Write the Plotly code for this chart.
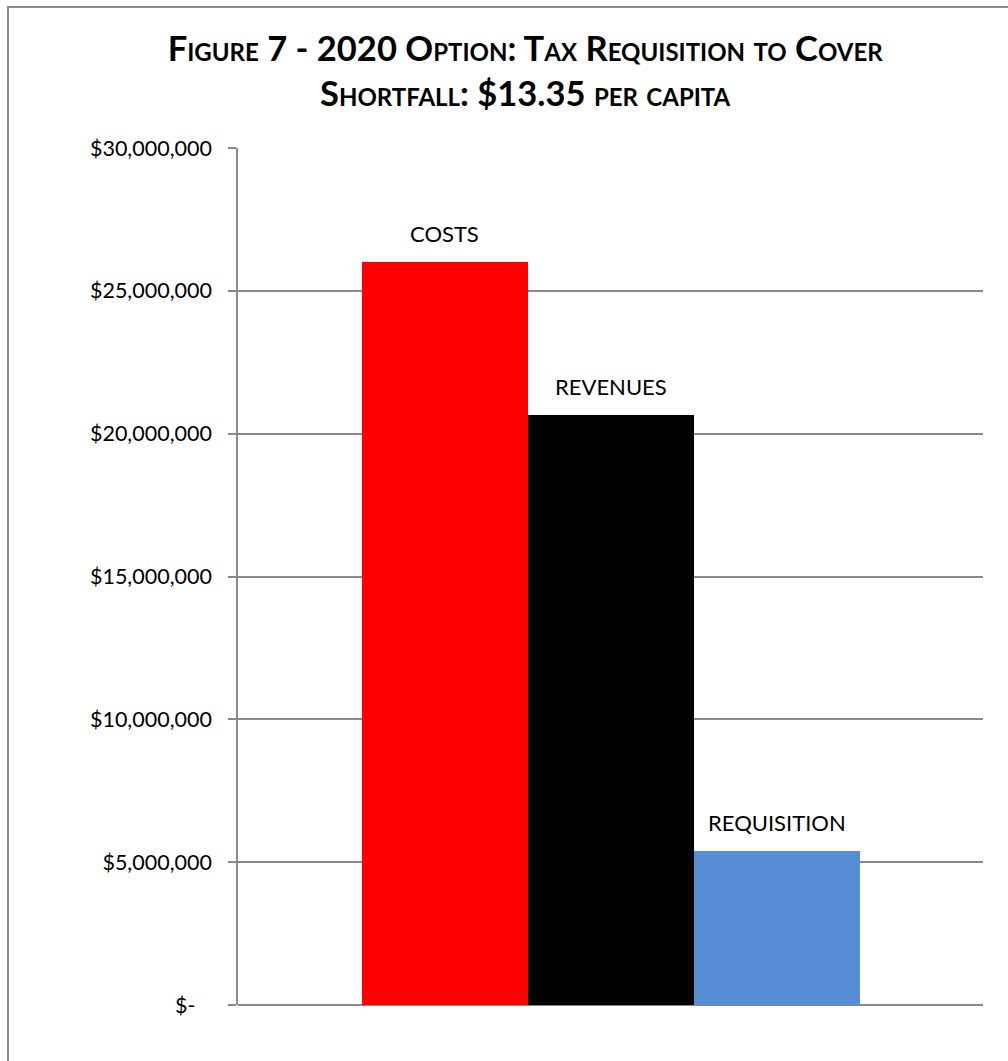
import plotly.graph_objects as go

# Budget components (dollars)
categories = ["COSTS", "REVENUES", "REQUISITION"]
amounts = [26010000, 20650000, 5390000]
bar_colors = ["#ff0000", "#000000", "#558ed5"]

tick_values = [0, 5000000, 10000000, 15000000, 20000000, 25000000, 30000000]
tick_labels = ["$-\u00a0\u00a0\u00a0", "$5,000,000", "$10,000,000", "$15,000,000",
               "$20,000,000", "$25,000,000", "$30,000,000"]

title_text = ("Figure 7 - 2020 Option: Tax Requisition to Cover<br>"
              "Shortfall: $13.35 per capita")

FONT = "Lato, 'Open Sans', sans-serif"
GRID = "#8a8a8a"

fig = go.Figure()
fig.add_trace(go.Bar(
    x=categories,
    y=amounts,
    marker=dict(color=bar_colors, line=dict(width=0)),
    hoverinfo="skip",
))

for cat, val in zip(categories, amounts):
    fig.add_annotation(
        x=cat, y=val, text=cat, showarrow=False,
        xref="x", yref="y", yanchor="bottom", yshift=13,
        font=dict(family=FONT, size=22, color="#000000"),
    )

# outer chart frame
fig.add_shape(
    type="rect", xref="paper", yref="paper",
    x0=(8 - 238) / 745, x1=1.15, y0=-0.2, y1=(1005 - 7) / 857,
    line=dict(color="#8a8a8a", width=2), fillcolor="rgba(0,0,0,0)",
    layer="below",
)

fig.update_layout(
    width=1008, height=1061,
    margin=dict(l=238, r=25, t=148, b=56),
    paper_bgcolor="white", plot_bgcolor="white",
    bargap=0,
    showlegend=False,
    title=dict(
        text=title_text,
        x=0.521, xanchor="center", xref="container",
        y=1 - 61 / 1061, yanchor="middle", yref="container",
        font=dict(family=FONT, size=34.5, color="#000000",
                  weight="bold", variant="small-caps"),
    ),
    xaxis=dict(
        range=[-1.244, 3.244],
        showticklabels=False, ticks="",
        showgrid=False, zeroline=False, showline=False,
        fixedrange=True,
    ),
    yaxis=dict(
        range=[0, 30000000],
        tickvals=tick_values, ticktext=tick_labels,
        ticks="outside", ticklen=8, tickcolor=GRID, tickwidth=1.5,
        ticklabelstandoff=12,
        showline=True, linecolor=GRID, linewidth=1.5,
        showgrid=True, gridcolor=GRID, gridwidth=1.5,
        zeroline=True, zerolinecolor=GRID, zerolinewidth=2,
        tickfont=dict(family=FONT, size=21.5, color="#000000"),
        fixedrange=True,
    ),
    font=dict(family=FONT),
)

fig.write_html("out.html")
